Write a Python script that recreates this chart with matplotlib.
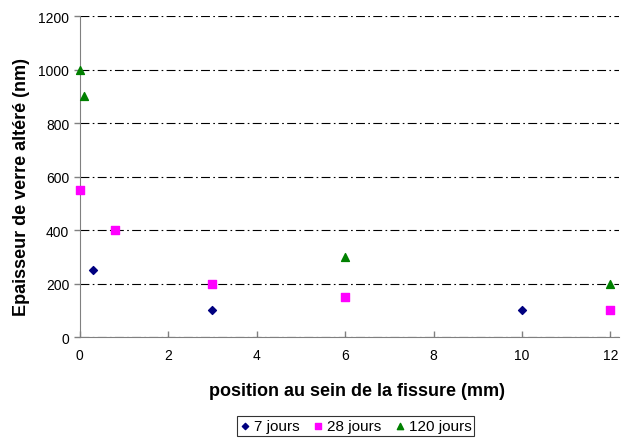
import matplotlib
matplotlib.use("Agg")
import matplotlib.pyplot as plt

plt.rcParams['font.family'] = ['Liberation Sans', 'DejaVu Sans']

# 7 jours
x7 = [0.3, 3, 10]
y7 = [250, 100, 100]
# 28 jours
x28 = [0, 0.8, 3, 6, 12]
y28 = [550, 400, 200, 150, 100]
# 120 jours
x120 = [0, 0.1, 6, 12]
y120 = [1000, 900, 300, 200]

fig = plt.figure(figsize=(6.23, 4.39), dpi=100)
ax = fig.add_axes([0.128, 0.230, 0.866, 0.731])

ax.scatter(x7, y7, marker='D', s=16, color='#000080', label='7 jours', zorder=3, clip_on=False)
ax.scatter(x28, y28, marker='s', s=30, color='#ff00ff', label='28 jours', zorder=3, clip_on=False)
ax.scatter(x120, y120, marker='^', s=32, color='#008000', label='120 jours', zorder=3, clip_on=False)

ax.set_xlim(0, 12.2)
ax.set_ylim(0, 1200)
ax.set_xticks(range(0, 13, 2))
ax.set_yticks(range(0, 1201, 200))
ax.grid(axis='y', color='black', linestyle=(0, (8, 3, 1.5, 3)), linewidth=0.8)
ax.set_axisbelow(True)

for side in ['top', 'right']:
    ax.spines[side].set_visible(False)
for side in ['left', 'bottom']:
    ax.spines[side].set_color('#808080')
ax.tick_params(colors='black', labelsize=10, length=4, width=1)
ax.tick_params(axis='both', which='both', color='#808080')
ax.tick_params(axis='x', direction='in', pad=8)
ax.tick_params(axis='y', direction='out')

ax.set_xlabel('position au sein de la fissure (mm)', fontsize=13, fontweight='bold',
              labelpad=14, x=0.513)
ax.set_ylabel('Epaisseur de verre altéré (nm)', fontsize=13, fontweight='bold',
              labelpad=6, y=0.47)

leg = fig.legend(loc='lower center', bbox_to_anchor=(0.571, 0.0), ncol=3, fontsize=11,
                 frameon=True, fancybox=False, edgecolor='black', handlelength=0.6,
                 handletextpad=0.3, columnspacing=0.9, borderpad=0.2, borderaxespad=0.1,
                 markerscale=0.8)
leg.get_frame().set_linewidth(0.8)

fig.savefig('out.png', dpi=100)
